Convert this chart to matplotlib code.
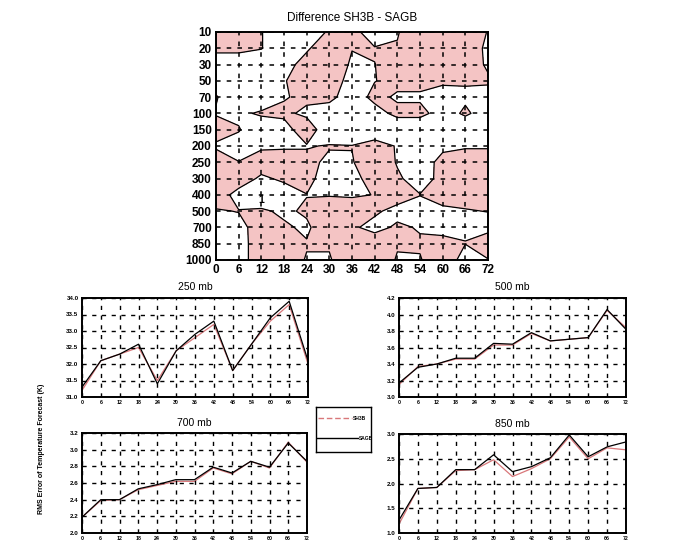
import numpy as np
import matplotlib.pyplot as plt

plt.rcParams['font.family'] = ['Liberation Sans', 'DejaVu Sans']

# forecast hours and pressure levels
hours = list(range(0, 73, 6))
levels = ['10', '20', '30', '50', '70', '100', '150', '200', '250',
          '300', '400', '500', '700', '850', '1000']

# difference SH3B - SAGB, one row per level (top = 10 mb), one column per hour
diff = [
    [0.5, 0.5, 0.03, -0.5, -0.5, 0.1, 0.3, -0.5, -0.05, 0.5, 0.5, 0.3, -0.02],
    [0.2, 0.2, 0.03, -0.5, -0.1, 0.5, 0.02, 0.05, 0.05, 0.5, 0.5, 0.3, -0.1],
    [-0.5, -0.5, -0.5, -0.3, 0.3, 0.5, -0.1, -0.01, 0.3, 0.5, 0.5, 0.4, -0.1],
    [-0.3, -0.5, -0.5, -0.05, 0.4, 0.3, -0.2, -0.02, 0.2, 0.2, 0.15, 0.05, 0.1],
    [0.05, -0.5, -0.5, -0.1, 0.3, 0.2, -0.4, 0.2, -0.1, -0.1, -0.4, -0.1, -0.3],
    [-0.05, -0.15, 0.1, 0.3, -0.3, -0.4, -0.5, -0.3, 0.2, 0.2, -0.3, 0.1, -0.3],
    [0.3, 0.05, -0.5, -0.6, 0.9, -1.1, -0.5, -0.5, -0.6, -0.6, -0.5, -0.5, -0.5],
    [-0.1, -0.3, -0.1, -0.1, -0.1, 0.1, 0.02, 0.3, -0.05, -0.5, -0.2, -0.1, -0.1],
    [0.4, 0.02, 0.3, 0.4, 0.4, -0.3, -0.05, 0.5, -0.05, -0.5, 0.3, 0.5, 0.5],
    [0.4, 0.3, -0.1, 0.1, 0.3, -0.5, -0.3, 0.4, 0.1, -0.3, 0.2, 0.5, 0.5],
    [0.3, -0.2, -0.5, -0.3, -0.02, -0.05, -0.1, 0.02, 0.3, 0.02, 0.3, 0.3, 0.3],
    [-0.05, 0.02, 0.1, -0.12, 0.1, 0.5, 0.5, 0.1, -0.2, -0.3, -0.15, -0.05, 0.02],
    [-0.5, -0.2, 0.3, 0.1, -0.12, 0.5, 0.1, -0.2, 0.1, -0.05, -0.3, -0.05, -0.3],
    [-0.5, -0.3, 0.4, 0.5, 0.05, 0.05, 0.5, 0.4, 0.05, 0.08, 0.3, 0.01, 0.6],
    [-0.5, -0.3, 0.4, 0.4, -0.05, -0.05, 0.4, 0.4, -0.05, -0.05, 0.5, -0.3, -0.05],
]

# line panels
sh3b_250 = [31.2, 32.1, 32.3, 32.5, 31.5, 32.4, 32.8, 33.2, 31.8, 32.6, 33.3, 33.8, 32.0]
sagb_250 = [31.3, 32.1, 32.3, 32.6, 31.4, 32.4, 32.9, 33.3, 31.8, 32.6, 33.4, 33.9, 32.1]
yt_250 = [31.0, 31.5, 32.0, 32.5, 33.0, 33.5, 34.0]

sh3b_500 = [3.15, 3.37, 3.40, 3.46, 3.46, 3.63, 3.63, 3.77, 3.68, 3.70, 3.72, 4.05, 3.84]
sagb_500 = [3.17, 3.36, 3.40, 3.47, 3.47, 3.65, 3.64, 3.78, 3.68, 3.70, 3.72, 4.06, 3.82]
yt_500 = [3.0, 3.2, 3.4, 3.6, 3.8, 4.0, 4.2]

sh3b_700 = [2.19, 2.39, 2.40, 2.52, 2.57, 2.62, 2.62, 2.78, 2.71, 2.86, 2.78, 3.09, 2.85]
sagb_700 = [2.19, 2.40, 2.40, 2.53, 2.58, 2.64, 2.64, 2.79, 2.72, 2.86, 2.79, 3.08, 2.86]
yt_700 = [2.0, 2.2, 2.4, 2.6, 2.8, 3.0, 3.2]

sh3b_850 = [1.18, 1.90, 1.92, 2.26, 2.28, 2.48, 2.14, 2.30, 2.50, 2.94, 2.50, 2.72, 2.68]
sagb_850 = [1.26, 1.90, 1.92, 2.28, 2.28, 2.58, 2.24, 2.34, 2.52, 2.98, 2.54, 2.74, 2.84]
yt_850 = [1.0, 1.5, 2.0, 2.5, 3.0]

PINK = '#f4c4c4'
RED = '#d9777a'
W, H = 679.0, 545.0


def rect(x0, y0, x1, y1):
    # pixel box -> figure fraction
    return [x0 / W, 1 - y1 / H, (x1 - x0) / W, (y1 - y0) / H]


def dashed_grid(ax, lw):
    ax.grid(True, color='black', linestyle=(0, (3, 4)), linewidth=lw)
    ax.set_axisbelow(False)
    for s in ax.spines.values():
        s.set_linewidth(1.4)


fig = plt.figure(figsize=(6.79, 5.45), dpi=100)

# contour panel
ax = fig.add_axes(rect(216, 32, 488, 260))
Z = np.array(diff)
yy = np.arange(len(levels))
ax.contourf(hours, yy, Z, levels=[-2, 0, 2], colors=['white', PINK])
ax.contour(hours, yy, Z, levels=[0], colors='black', linewidths=0.9)
ax.set_xlim(0, 72)
ax.set_ylim(len(levels) - 1, 0)
ax.set_xticks(hours)
ax.set_yticks(yy)
ax.set_yticklabels(levels)
ax.tick_params(length=0, labelsize=8.5, pad=3)
for lab in ax.get_xticklabels() + ax.get_yticklabels():
    lab.set_fontweight('bold')
dashed_grid(ax, 1.1)
ax.set_title('Difference SH3B - SAGB', fontsize=8.5, pad=8)
ax.text(12, 10.3, '1', fontsize=7.5, fontweight='bold', ha='center', va='center')


def line_panel(box, title, sh3b, sagb, yticks, tpad):
    a = fig.add_axes(rect(*box))
    a.plot(hours, sh3b, color=RED, lw=0.9)
    a.plot(hours, sagb, color='black', lw=0.9)
    a.set_xlim(0, 72)
    a.set_ylim(yticks[0], yticks[-1])
    a.set_xticks(hours)
    a.set_yticks(yticks)
    a.set_yticklabels(['%.1f' % v for v in yticks])
    a.tick_params(axis='y', length=0, labelsize=4.5, pad=2.5)
    a.tick_params(axis='x', length=0, labelsize=3.8, pad=2.5)
    for lab in a.get_xticklabels() + a.get_yticklabels():
        lab.set_fontweight('bold')
    dashed_grid(a, 1.0)
    a.set_title(title, fontsize=7.5, pad=tpad)
    return a


line_panel((82, 298, 308, 397), '250 mb', sh3b_250, sagb_250, yt_250, 6)
line_panel((399, 298, 626, 397), '500 mb', sh3b_500, sagb_500, yt_500, 6)
line_panel((82, 433, 307, 533), '700 mb', sh3b_700, sagb_700, yt_700, 5)
line_panel((399, 434, 626, 533), '850 mb', sh3b_850, sagb_850, yt_850, 5)

# legend box
lax = fig.add_axes(rect(316, 407, 371, 452))
lax.set_xlim(0, 1)
lax.set_ylim(0, 1)
lax.set_xticks([])
lax.set_yticks([])
lax.plot([0.04, 0.66], [0.745, 0.745], color=RED, lw=1.0, ls=(0, (4, 2)))
lax.plot([0.0, 0.76], [0.31, 0.31], color='black', lw=1.0)
lax.text(0.68, 0.745, 'SH3B', fontsize=3.5, fontweight='bold', va='center')
lax.text(0.78, 0.31, 'SAGB', fontsize=3.5, fontweight='bold', va='center')
for s in lax.spines.values():
    s.set_linewidth(1.0)

fig.text(42 / W, 1 - 449 / H, 'RMS Error of Temperature Forecast (K)',
         rotation=90, fontsize=5, fontweight='bold', ha='center', va='center')

fig.savefig('out.png', dpi=100)
